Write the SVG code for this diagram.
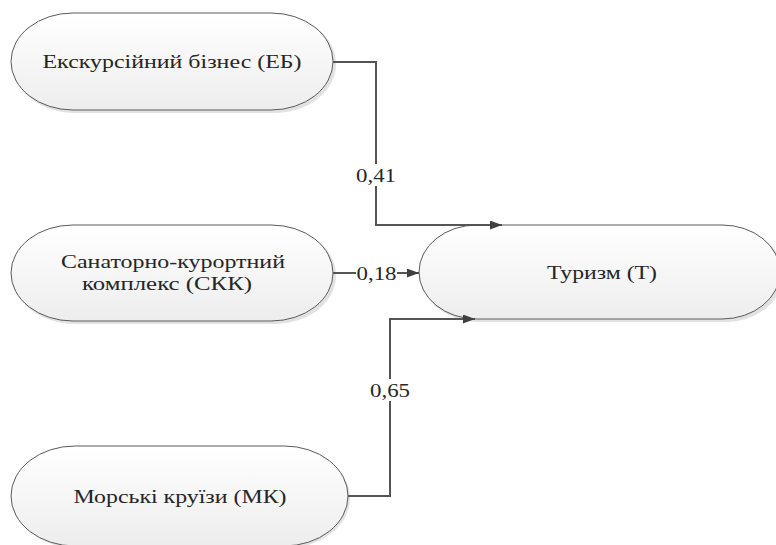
<svg xmlns="http://www.w3.org/2000/svg" width="776" height="545" viewBox="0 0 776 545">
  <defs>
    <linearGradient id="fillG" x1="0" y1="0" x2="0" y2="1">
      <stop offset="0" stop-color="#ffffff"/>
      <stop offset="1" stop-color="#ededed"/>
    </linearGradient>
    <marker id="arr" viewBox="0 0 12 9" refX="12" refY="4.5" markerWidth="12" markerHeight="9" markerUnits="userSpaceOnUse" orient="auto">
      <path d="M0,0 L12,4.5 L0,9 Z" fill="#404040"/>
    </marker>
  </defs>
  <style>
    .shape { fill: url(#fillG); stroke: #5a5a5a; stroke-width: 1; }
    .shadow { fill: #e2e2e2; }
    .txt { font-family: "Liberation Serif", "Times New Roman", serif; font-size: 18px; fill: #262626; text-anchor: middle; }
    .conn { fill: none; stroke: #555; stroke-width: 2; }
    .lblbg { fill: #ffffff; }
  </style>
  <rect width="776" height="545" fill="#ffffff"/>

  <g id="node-eb">
    <rect class="shadow" x="13" y="15" width="323" height="98" rx="62" ry="49"/>
    <rect class="shape" x="11" y="13" width="322" height="97" rx="62" ry="48.5"/>
    <text class="txt" x="172" y="68" textLength="259" lengthAdjust="spacingAndGlyphs">Екскурсійний бізнес (ЕБ)</text>
  </g>

  <g id="node-skk">
    <rect class="shadow" x="13" y="227" width="323" height="97" rx="62" ry="48"/>
    <rect class="shape" x="11" y="225" width="322" height="96" rx="62" ry="48"/>
    <text class="txt" x="173" y="268" textLength="224" lengthAdjust="spacingAndGlyphs">Санаторно-курортний</text>
    <text class="txt" x="167" y="290" textLength="170" lengthAdjust="spacingAndGlyphs">комплекс (СКК)</text>
  </g>

  <g id="node-t">
    <rect class="shadow" x="421" y="227" width="362" height="95" rx="58" ry="47"/>
    <rect class="shape" x="419" y="225" width="361" height="94" rx="58" ry="47"/>
    <text class="txt" x="602" y="279" textLength="110" lengthAdjust="spacingAndGlyphs">Туризм (Т)</text>
  </g>

  <g id="node-mk">
    <rect class="shadow" x="13" y="448" width="337" height="100" rx="64" ry="50"/>
    <rect class="shape" x="11" y="446" width="337" height="100" rx="64" ry="50"/>
    <text class="txt" x="180" y="503" textLength="213" lengthAdjust="spacingAndGlyphs">Морські круїзи (МК)</text>
  </g>

  <g id="connectors">
    <path class="conn" d="M333,62 H376 V225 H502" marker-end="url(#arr)"/>
    <path class="conn" d="M333,273 H419" marker-end="url(#arr)"/>
    <path class="conn" d="M348,496 H390 V319 H475" marker-end="url(#arr)"/>

    <rect class="lblbg" x="355" y="164" width="42" height="22"/>
    <text class="txt" x="376" y="182" textLength="40" lengthAdjust="spacingAndGlyphs">0,41</text>

    <rect class="lblbg" x="356" y="262" width="41" height="22"/>
    <text class="txt" x="376.5" y="280" textLength="40" lengthAdjust="spacingAndGlyphs">0,18</text>

    <rect class="lblbg" x="369" y="379" width="42" height="22"/>
    <text class="txt" x="390" y="397" textLength="40" lengthAdjust="spacingAndGlyphs">0,65</text>
  </g>
</svg>
